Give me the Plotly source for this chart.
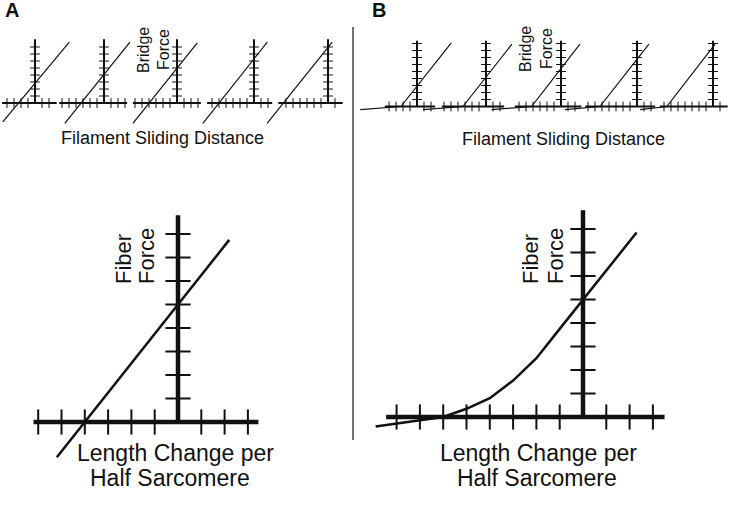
import math
import plotly.graph_objects as go

W, H = 736, 509

# ---------------- data (grid-tick units, each sub-chart's own origin) ----------------
# Panel A: bridge force vs filament sliding distance (5 bridges)
A_axis_x = [[-4.7, 3.1], [-6.4, 3.3], [-6.3, 3.4], [-6.7, 2.6], [-7.1, 2.1]]
A_line_x = [[-4.6, 4.9], [-5.6, 3.7], [-6.3, 2.9], [-7.3, 1.9], [-8.7, 0.6]]
A_line_y = [[-2.7, 8.7], [-2.9, 8.7], [-2.9, 8.6], [-2.9, 8.7], [-2.9, 8.7]]
A_force_top = 9.1

# Panel B: bridge force with slack (shallow) region
B_axis_x = [[-4.6, 2.6], [-6.3, 2.6], [-6.6, 2.9], [-7.4, 2.6], [-7.6, 2.1]]
B_line_x = [[-8.1, -2.3, 4.9], [-9.0, -3.3, 3.7], [-9.9, -4.2, 2.7], [-10.3, -5.3, 1.7], [-10.4, -6.6, 0.3]]
B_line_y = [[-0.45, 0.0, 9.1], [-0.45, 0.0, 8.9], [-0.45, 0.0, 8.9], [-0.45, 0.0, 8.9], [-0.45, 0.0, 8.9]]
B_force_top = 9.4

# Fiber force vs length change per half sarcomere
A_fiber_axis_x = [-6.2, 3.45]
A_fiber_ticks_x = [-6, -5, -4, -3, -2, -1, 1, 2, 3]
A_fiber_x = [-5.2, 2.2]
A_fiber_y = [-1.5, 7.75]

B_fiber_axis_x = [-8.45, 3.5]
B_fiber_ticks_x = [-8, -7, -6, -5, -4, -3, -2, -1, 1, 2, 3]
B_fiber_x = [-8.9, -6.0, -5.0, -4.0, -3.0, -2.0, -1.0, 0.0, 2.3]
B_fiber_y = [-0.4, 0.0, 0.35, 0.8, 1.55, 2.5, 3.75, 5.0, 7.85]

fiber_ticks_y = [1, 2, 3, 4, 5, 6, 7, 8]
fiber_top = 8.8

# ---------------- layout helpers ----------------
fig = go.Figure()
layout = {}
counter = [0]
INK = "#111111"


def new_axes(ox, oy, sx, sy):
    counter[0] += 1
    n = counter[0]
    xs = "" if n == 1 else str(n)
    layout["xaxis" + xs] = dict(domain=[0, 1], range=[(0 - ox) / sx, (W - ox) / sx],
                                visible=False, fixedrange=True, anchor="y" + xs)
    layout["yaxis" + xs] = dict(domain=[0, 1], range=[(oy - H) / sy, oy / sy],
                                visible=False, fixedrange=True, anchor="x" + xs)
    return "x" + xs, "y" + xs


def add(xa, ya, **kw):
    fig.add_trace(go.Scatter(xaxis=xa, yaxis=ya, showlegend=False, hoverinfo="skip", **kw))


def draw_axes(xa, ya, xr, ytop, axw, tsize, tw, xticks=None, yticks=None):
    add(xa, ya, x=xr, y=[0, 0], mode="lines", line=dict(color=INK, width=axw))
    add(xa, ya, x=[0, 0], y=[0, ytop], mode="lines", line=dict(color=INK, width=axw))
    if xticks is None:
        xticks = [k for k in range(math.ceil(xr[0] + 0.2), math.floor(xr[1] - 0.2) + 1) if k != 0]
    if yticks is None:
        yticks = list(range(1, math.floor(ytop - 0.3) + 1))
    add(xa, ya, x=xticks, y=[0] * len(xticks), mode="markers",
        marker=dict(symbol="line-ns", size=tsize, line=dict(color=INK, width=tw)))
    add(xa, ya, x=[0] * len(yticks), y=yticks, mode="markers",
        marker=dict(symbol="line-ew", size=tsize, line=dict(color=INK, width=tw)))


# small bridge charts
A_origin_x = [35, 104, 177, 254, 328]
B_origin_x = [417, 486, 561, 637, 713]
for i in range(5):
    xa, ya = new_axes(A_origin_x[i], 103, 7, 7)
    draw_axes(xa, ya, A_axis_x[i], A_force_top, 2, 7, 1)
    add(xa, ya, x=A_line_x[i], y=A_line_y[i], mode="lines", line=dict(color=INK, width=1.2))
for i in range(5):
    xa, ya = new_axes(B_origin_x[i], 106.5, 7, 7)
    draw_axes(xa, ya, B_axis_x[i], B_force_top, 2, 7, 1)
    add(xa, ya, x=B_line_x[i], y=B_line_y[i], mode="lines", line=dict(color=INK, width=1.2))

# big fiber charts
xa, ya = new_axes(178, 422, 23.3, 23.5)
draw_axes(xa, ya, A_fiber_axis_x, fiber_top, 4.5, 18, 2, A_fiber_ticks_x, fiber_ticks_y)
add(xa, ya, x=A_fiber_x, y=A_fiber_y, mode="lines", line=dict(color=INK, width=2.5))

xa, ya = new_axes(583, 417, 23.3, 23.5)
draw_axes(xa, ya, B_fiber_axis_x, fiber_top, 4.5, 18, 2, B_fiber_ticks_x, fiber_ticks_y)
add(xa, ya, x=B_fiber_x, y=B_fiber_y, mode="lines", line=dict(color=INK, width=2.5))

# ---------------- text ----------------
FONT = "Liberation Sans"
ann = []


def txt(s, px, py, size, angle=0, xanchor="center", yanchor="middle", bold=False):
    ann.append(dict(text=("<b>%s</b>" % s) if bold else s, x=px / W, y=1 - py / H,
                    xref="paper", yref="paper", showarrow=False, textangle=angle,
                    xanchor=xanchor, yanchor=yanchor,
                    font=dict(family=FONT, size=size, color=INK)))


txt("A", 12, 10, 20, bold=True)
txt("B", 379, 10, 20, bold=True)

txt("Bridge", 143, 50, 16, angle=-90)
txt("Force", 163, 50, 16, angle=-90)
txt("Bridge", 525, 49, 16, angle=-90)
txt("Force", 546, 49, 16, angle=-90)

txt("Filament Sliding Distance", 162, 138, 18)
txt("Filament Sliding Distance", 563, 139, 18)

txt("Fiber", 123, 286, 22, angle=-90, yanchor="bottom")
txt("Force", 146, 286, 22, angle=-90, yanchor="bottom")
txt("Fiber", 530, 286, 22, angle=-90, yanchor="bottom")
txt("Force", 555, 286, 22, angle=-90, yanchor="bottom")

txt("Length Change per", 175, 453, 23)
txt("Half Sarcomere", 170, 478, 23)
txt("Length Change per", 538, 453, 23)
txt("Half Sarcomere", 537, 478, 23)

fig.update_layout(
    width=W, height=H, margin=dict(l=0, r=0, t=0, b=0),
    paper_bgcolor="white", plot_bgcolor="rgba(0,0,0,0)",
    annotations=ann,
    shapes=[dict(type="line", xref="paper", yref="paper",
                 x0=353 / W, x1=353 / W, y0=1 - 27 / H, y1=1 - 440 / H,
                 line=dict(color="#444444", width=1.5))],
    **layout,
)
fig.write_html("out.html", config={"displayModeBar": False},
               post_script="document.body.style.margin='0';document.body.style.overflow='hidden';")
